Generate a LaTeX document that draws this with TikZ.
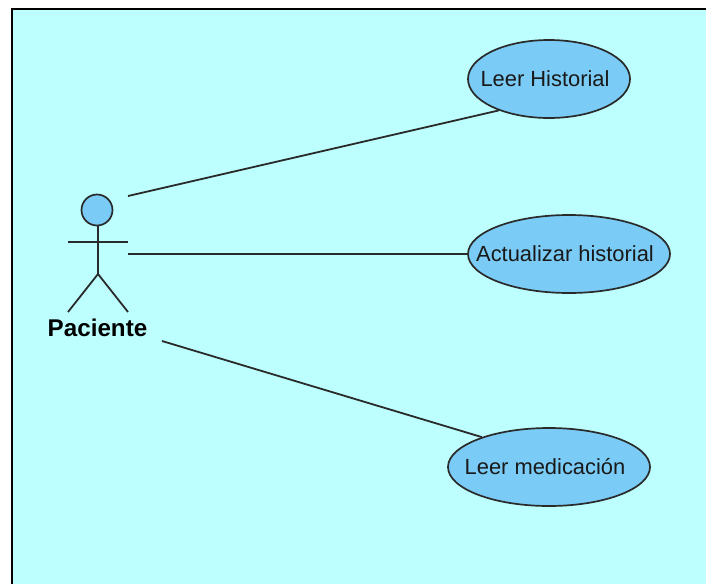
\documentclass[tikz,border=0pt]{standalone}
\usepackage{fontspec}
\setmainfont{Liberation Sans}
\usetikzlibrary{shapes.geometric}
\definecolor{bgcyan}{HTML}{BDFFFF}
\definecolor{ucblue}{HTML}{7ACBF5}
\definecolor{linedark}{HTML}{2A2A2A}
\newcommand{\uctext}[1]{\makebox[0pt][c]{\kern-8pt #1}}
\tikzset{
  usecase/.style={ellipse,draw=linedark,fill=ucblue,line width=1.7pt,inner sep=0pt,minimum height=78pt,font=\fontsize{21.9pt}{24pt}\selectfont,text=black!90},
  assoc/.style={draw=linedark,line width=1.8pt},
  stick/.style={draw=linedark,line width=1.8pt}
}
\begin{document}
\begin{tikzpicture}[x=1pt,y=-1pt]
\useasboundingbox (0,0) rectangle (706,584);
\fill[white] (0,0) rectangle (706,584);
\fill[bgcyan] (12,9) rectangle (706,584);
\draw[black,line width=2pt] (12,584) -- (12,9) -- (706,9);
% use cases
\node[usecase,minimum width=162pt] (uc1) at (549,79) {\uctext{Leer Historial}};
\node[usecase,minimum width=202pt] (uc2) at (569,254) {\uctext{Actualizar historial}};
\node[usecase,minimum width=202pt] (uc3) at (549,467) {\uctext{Leer medicación}};
% actor
\node[circle,draw=linedark,fill=ucblue,line width=1.7pt,minimum size=31pt,inner sep=0pt] (head) at (97,210) {};
\coordinate (hip) at (98,274);
\coordinate (armL) at (68,242);
\coordinate (armR) at (128,242);
\coordinate (footL) at (68,312);
\coordinate (footR) at (128,312);
\draw[stick] (98,225.5) -- (hip);
\draw[stick] (armL) -- (armR);
\draw[stick] (footL) -- (hip) -- (footR);
\node[font=\bfseries\fontsize{24.2pt}{26pt}\selectfont,text=black,inner sep=0pt] (actor) at (97.5,328) {Paciente};
% connectors
\coordinate (a1) at (128,196);
\coordinate (a2) at (128,254);
\coordinate (a3) at (162,341);
\draw[assoc] (a1) -- (uc1.212.3);
\draw[assoc] (a2) -- (uc2.west);
\draw[assoc] (a3) -- (uc3.156.5);
\end{tikzpicture}
\end{document}
